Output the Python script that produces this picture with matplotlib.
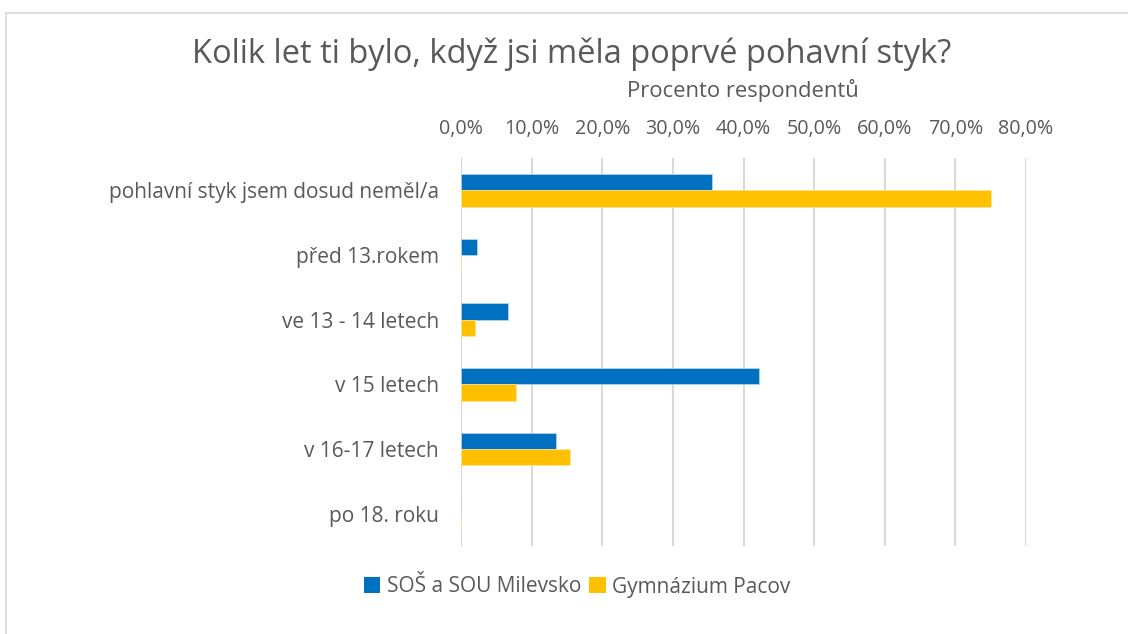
import matplotlib
matplotlib.use("Agg")
import matplotlib.pyplot as plt
from matplotlib.patches import Patch
from matplotlib.lines import Line2D
import numpy as np

categories = ["pohlavní styk jsem dosud neměl/a", "před 13.rokem", "ve 13 - 14 letech",
              "v 15 letech", "v 16-17 letech", "po 18. roku"]
series_names = ["SOŠ a SOU Milevsko", "Gymnázium Pacov"]
milevsko = [35.6, 2.3, 6.7, 42.2, 13.4, 0.0]
pacov = [75.0, 0.0, 2.0, 7.8, 15.4, 0.0]
xticks = [0, 10, 20, 30, 40, 50, 60, 70, 80]
title = "Kolik let ti bylo, když jsi měla poprvé pohavní styk?"
xlabel = "Procento respondentů"

colors = ["#0070C0", "#FFC000"]
text_color = "#595959"
plt.rcParams['font.family'] = ['Open Sans', 'DejaVu Sans']

W, H = 1128, 634
fig = plt.figure(figsize=(W / 100, H / 100), dpi=100)
fig.patch.set_facecolor("white")
# partial chart border (top and left edges visible)
fig.lines.append(Line2D([6 / W, 1.0], [1 - 12.5 / H] * 2, transform=fig.transFigure,
                        color="#D9D9D9", lw=1.2))
fig.lines.append(Line2D([6 / W] * 2, [0.0, 1 - 12.5 / H], transform=fig.transFigure,
                        color="#D9D9D9", lw=1.2))

ax = fig.add_axes([461 / W, 1 - 546 / H, (1026 - 461) / W, (546 - 158) / H])
y = np.arange(len(categories))
h = 0.255
ax.barh(y - h / 2, milevsko, height=h, color=colors[0], edgecolor="#BDD7EE", linewidth=0.5, zorder=3)
ax.barh(y + h / 2, pacov, height=h, color=colors[1], edgecolor="#FFE699", linewidth=0.5, zorder=3)

ax.set_xlim(0, 80)
ax.set_ylim(len(categories) - 0.5, -0.5)
ax.set_xticks(xticks)
ax.set_xticklabels([f"{v:.1f}%".replace(".", ",") for v in xticks])
ax.set_yticks(y)
ax.set_yticklabels(categories)
ax.xaxis.tick_top()
ax.tick_params(axis="x", length=0, pad=14, labelsize=14.2, labelcolor=text_color)
ax.tick_params(axis="y", length=0, pad=16, labelsize=15, labelcolor=text_color)
ax.grid(axis="x", color="#D9D9D9", lw=1.5, zorder=0)
for s in ax.spines.values():
    s.set_visible(False)

fig.text(572 / W, 1 - 54 / H, title, ha="center", va="center", fontsize=23.5, color=text_color)
fig.text(743 / W, 1 - 91 / H, xlabel, ha="center", va="center", fontsize=15.8, color=text_color)

handles = [Patch(facecolor=c, edgecolor="none") for c in colors]
fig.legend(handles, series_names, loc="center", bbox_to_anchor=(577 / W, 1 - 587 / H), ncol=2,
           frameon=False, fontsize=15, labelcolor=text_color, handlelength=0.8, handleheight=0.8,
           handletextpad=0.3, columnspacing=0.4)

fig.savefig("out.png", dpi=100, facecolor="white")
